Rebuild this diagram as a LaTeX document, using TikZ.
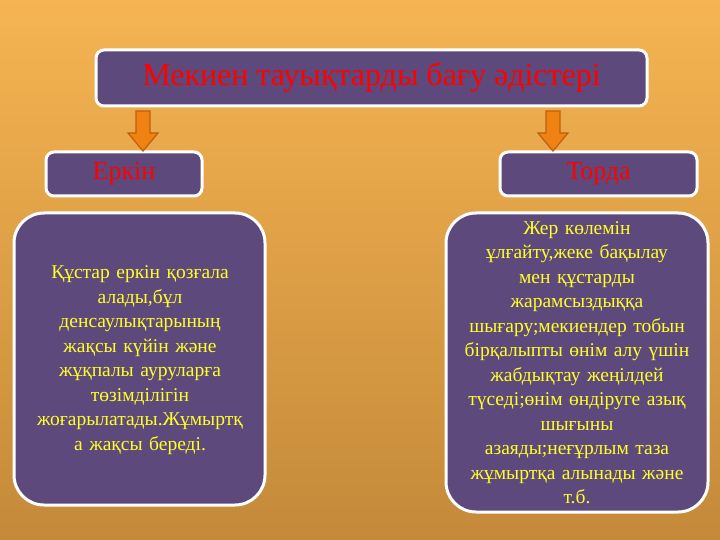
\documentclass[tikz,border=0pt]{standalone}
\usepackage{fontspec}
\setmainfont{Liberation Serif}
\definecolor{pbox}{RGB}{94,73,124}
\definecolor{ytext}{RGB}{255,255,40}
\definecolor{arr}{RGB}{240,130,20}
\definecolor{arrd}{RGB}{190,95,10}
\begin{document}
\begin{tikzpicture}[x=1pt,y=-1pt,
  box/.style={draw=white,line width=3pt,fill=pbox,rounded corners=#1,inner sep=0pt},
  box/.default=8pt,
  body/.style={text=ytext,font=\fontsize{19.5}{24.5}\selectfont,align=center,text width=#1},
  blk/.style={fill=arr,draw=arrd,line width=1.2pt,line join=miter}]
\shade[top color={rgb,255:red,246;green,180;blue,82},bottom color={rgb,255:red,196;green,138;blue,58}] (0,0) rectangle (720,540);
\useasboundingbox (0,0) rectangle (720,540);
\node[box,minimum width=551pt,minimum height=56pt] (title) at (371.5,78) {};
\node[text=red,font=\fontsize{32}{34}\selectfont] at (title) {Мекиен тауықтарды бағу әдістері};
\node[box,minimum width=156pt,minimum height=44pt] (erkin) at (124,174) {};
\node[text=red,font=\fontsize{26}{28}\selectfont] at (erkin) {Еркін};
\node[box,minimum width=197pt,minimum height=44pt] (torda) at (598.5,174) {};
\node[text=red,font=\fontsize{26}{28}\selectfont] at (torda) {Торда};
\foreach \n/\x in {a1/143,a2/553}{
  \coordinate (\n) at (\x,111);
  \draw[blk] (\n) ++(-7,0) -- ++(14,0) -- ++(0,22) -- ++(8,0) -- (\x,151) -- (\x-15,133) -- ++(8,0) -- cycle;
}
\node[box=30pt,minimum width=251pt,minimum height=292pt] (left) at (139.5,359) {};
\node[body=245pt] at (140,360) {Құстар еркін қозғала\\алады,бұл\\денсаулықтарының\\жақсы күйін және\\жұқпалы ауруларға\\төзімділігін\\жоғарылатады.Жұмыртқ\\а жақсы береді.};
\node[box=30pt,minimum width=262pt,minimum height=299pt] (right) at (577,362.5) {};
\node[body=258pt] at (577,362.5) {Жер көлемін\\ұлғайту,жеке бақылау\\мен құстарды\\жарамсыздыққа\\шығару;мекиендер тобын\\бірқалыпты өнім алу үшін\\жабдықтау жеңілдей\\түседі;өнім өндіруге азық\\шығыны\\азаяды;неғұрлым таза\\жұмыртқа алынады және\\т.б.};
\end{tikzpicture}
\end{document}
